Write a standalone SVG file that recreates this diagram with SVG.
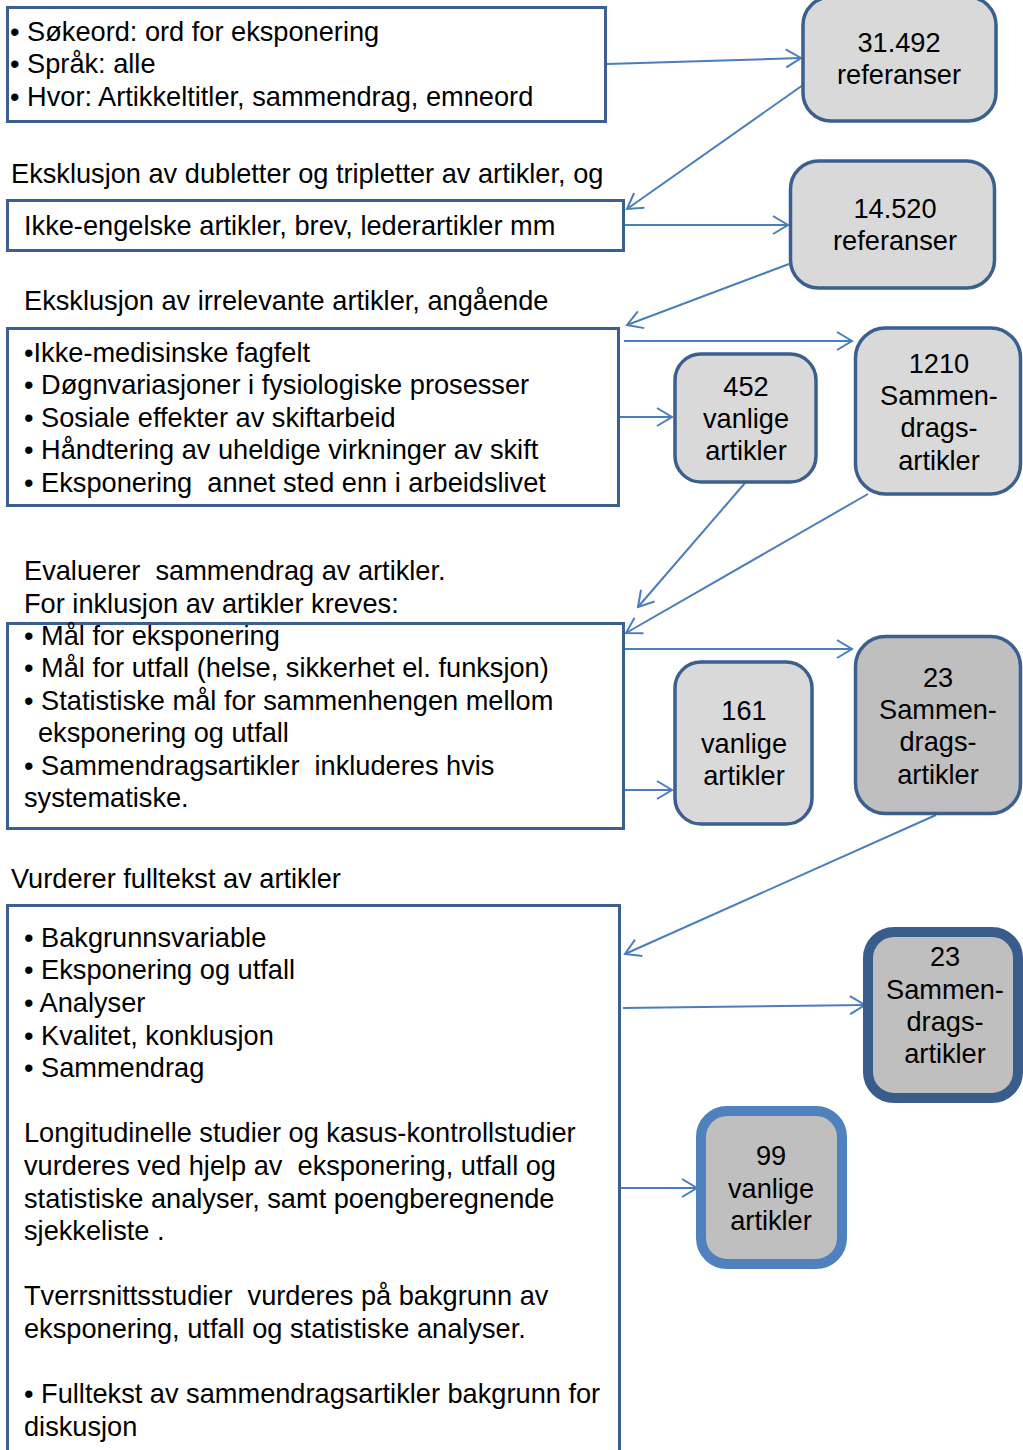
<svg xmlns="http://www.w3.org/2000/svg" width="1023" height="1450" viewBox="0 0 1023 1450">
<style>
text{font-family:"Liberation Sans",Arial,sans-serif;font-size:27.2px;fill:#000;white-space:pre}
.c{text-anchor:middle}
.box{fill:#fff;stroke:#3b5f8e;stroke-width:3}
.node{fill:#d9d9d9;stroke:#3b5f8e;stroke-width:3.5}
.edge{fill:none;stroke:#4a7ebb;stroke-width:2;marker-end:url(#arr)}
</style>
<defs>
<marker id="arr" markerUnits="userSpaceOnUse" viewBox="0 0 18 20" refX="16" refY="10" markerWidth="18" markerHeight="20" orient="auto">
<path d="M1,1 L16,10 L1,19" fill="none" stroke="#4a7ebb" stroke-width="2"/>
</marker>
</defs>
<rect width="1023" height="1450" fill="#fff"/>

<g id="connectors">
<line class="edge" x1="607" y1="64" x2="801" y2="58"/>
<line class="edge" x1="803" y1="85" x2="627" y2="209"/>
<line class="edge" x1="625" y1="225" x2="788" y2="225"/>
<line class="edge" x1="789" y1="264" x2="627" y2="325"/>
<line class="edge" x1="624" y1="341" x2="852" y2="341"/>
<line class="edge" x1="620" y1="417" x2="672" y2="417"/>
<line class="edge" x1="745" y1="483" x2="638" y2="607"/>
<line class="edge" x1="868" y1="494" x2="626" y2="633"/>
<line class="edge" x1="625" y1="649" x2="852" y2="649"/>
<line class="edge" x1="625" y1="790" x2="672" y2="790"/>
<line class="edge" x1="936" y1="815" x2="625" y2="954"/>
<line class="edge" x1="623" y1="1008" x2="865" y2="1005"/>
<line class="edge" x1="611" y1="1188" x2="697" y2="1188"/>
</g>

<g id="box1">
<rect class="box" x="7.5" y="7.5" width="598" height="114"/>
<text x="10" y="41" xml:space="preserve">• Søkeord: ord for eksponering</text>
<text x="10" y="73" xml:space="preserve">• Språk: alle</text>
<text x="10" y="106" xml:space="preserve">• Hvor: Artikkeltitler, sammendrag, emneord</text>
</g>

<g id="n31492">
<rect class="node" x="803" y="-3" width="193" height="124" rx="28"/>
<text class="c" x="899" y="52">31.492</text>
<text class="c" x="899" y="84">referanser</text>
</g>

<g id="label1">
<text x="11" y="183" xml:space="preserve">Eksklusjon av dubletter og tripletter av artikler, og</text>
</g>

<g id="box2">
<rect class="box" x="7.5" y="200.5" width="616" height="50"/>
<text x="24" y="235" xml:space="preserve">Ikke-engelske artikler, brev, lederartikler mm</text>
</g>

<g id="n14520">
<rect class="node" x="790.5" y="161" width="204" height="127" rx="28"/>
<text class="c" x="895" y="218">14.520</text>
<text class="c" x="895" y="250">referanser</text>
</g>

<g id="label2">
<text x="24" y="310" xml:space="preserve">Eksklusjon av irrelevante artikler, angående</text>
</g>

<g id="box3">
<rect class="box" x="7.5" y="328.5" width="611" height="177"/>
<text x="24" y="362" xml:space="preserve">•Ikke-medisinske fagfelt</text>
<text x="24" y="394" xml:space="preserve">• Døgnvariasjoner i fysiologiske prosesser</text>
<text x="24" y="427" xml:space="preserve">• Sosiale effekter av skiftarbeid</text>
<text x="24" y="459" xml:space="preserve">• Håndtering av uheldige virkninger av skift</text>
<text x="24" y="492" xml:space="preserve">• Eksponering  annet sted enn i arbeidslivet</text>
</g>

<g id="n452">
<rect class="node" x="675" y="354" width="141" height="128" rx="26"/>
<text class="c" x="746" y="396">452</text>
<text class="c" x="746" y="428">vanlige</text>
<text class="c" x="746" y="460">artikler</text>
</g>

<g id="n1210">
<rect class="node" x="855.5" y="328" width="165" height="166" rx="30"/>
<text class="c" x="939" y="373">1210</text>
<text class="c" x="939" y="405">Sammen-</text>
<text class="c" x="939" y="437">drags-</text>
<text class="c" x="939" y="470">artikler</text>
</g>

<g id="label3">
<text x="24" y="580" xml:space="preserve">Evaluerer  sammendrag av artikler.</text>
<text x="24" y="613" xml:space="preserve">For inklusjon av artikler kreves:</text>
</g>

<g id="box4">
<rect class="box" x="7.5" y="623.5" width="616" height="205"/>
<text x="24" y="645" xml:space="preserve">• Mål for eksponering</text>
<text x="24" y="677" xml:space="preserve">• Mål for utfall (helse, sikkerhet el. funksjon)</text>
<text x="24" y="710" xml:space="preserve">• Statistiske mål for sammenhengen mellom</text>
<text x="38" y="742" xml:space="preserve">eksponering og utfall</text>
<text x="24" y="775" xml:space="preserve">• Sammendragsartikler  inkluderes hvis</text>
<text x="24" y="807" xml:space="preserve">systematiske.</text>
</g>

<g id="n161">
<rect class="node" x="675" y="662" width="137" height="162" rx="26"/>
<text class="c" x="744" y="720">161</text>
<text class="c" x="744" y="753">vanlige</text>
<text class="c" x="744" y="785">artikler</text>
</g>

<g id="n23a">
<rect class="node" x="855.5" y="636.5" width="165" height="177" rx="30" style="fill:#bfbfbf"/>
<text class="c" x="938" y="687">23</text>
<text class="c" x="938" y="719">Sammen-</text>
<text class="c" x="938" y="751">drags-</text>
<text class="c" x="938" y="784">artikler</text>
</g>

<g id="label4">
<text x="11" y="888" xml:space="preserve">Vurderer fulltekst av artikler</text>
</g>

<g id="box5">
<rect class="box" x="7.5" y="905.5" width="612" height="570"/>
<text x="24" y="947" xml:space="preserve">• Bakgrunnsvariable</text>
<text x="24" y="979" xml:space="preserve">• Eksponering og utfall</text>
<text x="24" y="1012" xml:space="preserve">• Analyser</text>
<text x="24" y="1045" xml:space="preserve">• Kvalitet, konklusjon</text>
<text x="24" y="1077" xml:space="preserve">• Sammendrag</text>
<text x="24" y="1142" xml:space="preserve">Longitudinelle studier og kasus-kontrollstudier</text>
<text x="24" y="1175" xml:space="preserve">vurderes ved hjelp av  eksponering, utfall og</text>
<text x="24" y="1208" xml:space="preserve">statistiske analyser, samt poengberegnende</text>
<text x="24" y="1240" xml:space="preserve">sjekkeliste .</text>
<text x="24" y="1305" xml:space="preserve">Tverrsnittsstudier  vurderes på bakgrunn av</text>
<text x="24" y="1338" xml:space="preserve">eksponering, utfall og statistiske analyser.</text>
<text x="24" y="1403" xml:space="preserve">• Fulltekst av sammendragsartikler bakgrunn for</text>
<text x="24" y="1436" xml:space="preserve">diskusjon</text>
</g>

<g id="n23b">
<rect x="868" y="932" width="150" height="166" rx="26" fill="#bfbfbf" stroke="#385d8a" stroke-width="10"/>
<text class="c" x="945" y="966">23</text>
<text class="c" x="945" y="999">Sammen-</text>
<text class="c" x="945" y="1031">drags-</text>
<text class="c" x="945" y="1063">artikler</text>
</g>

<g id="n99">
<rect x="701" y="1111" width="141" height="153" rx="26" fill="#bfbfbf" stroke="#4f81bd" stroke-width="10"/>
<text class="c" x="771" y="1165">99</text>
<text class="c" x="771" y="1198">vanlige</text>
<text class="c" x="771" y="1230">artikler</text>
</g>
</svg>
